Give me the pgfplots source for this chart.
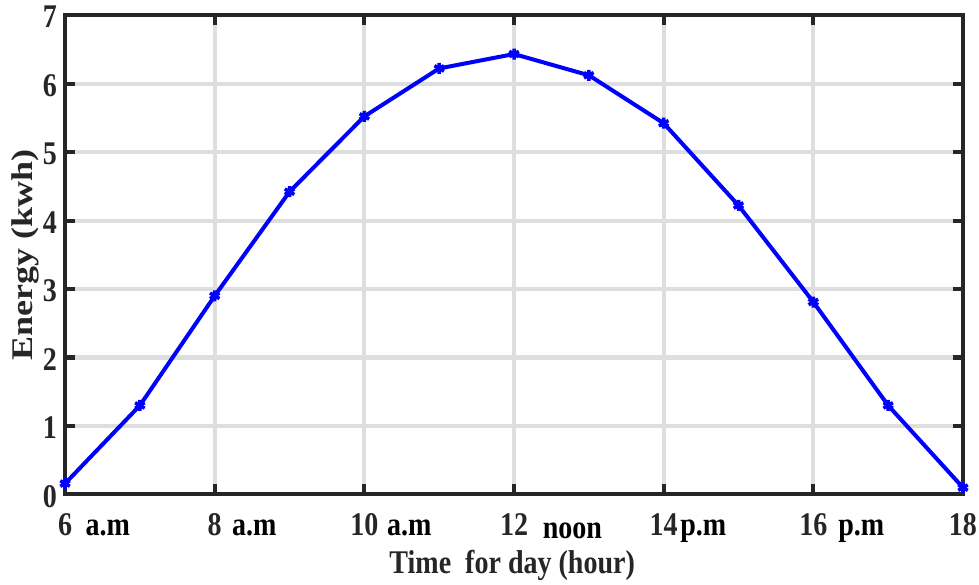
\documentclass[border=0pt]{standalone}
\usepackage{graphicx}
\usepackage{pgfplots}
\pgfplotsset{compat=1.18}
\usepackage{fontspec}
\setmainfont{Liberation Serif}
\definecolor{axgray}{RGB}{38,38,38}
\definecolor{gridgray}{RGB}{222,222,222}
\newcommand\vs[1]{\scalebox{1}[1.18]{#1}}
\begin{document}
\fontsize{28}{32}\selectfont\bfseries
\begin{tikzpicture}
\begin{axis}[
  scale only axis,
  width=897pt, height=479pt,
  xmin=6, xmax=18, ymin=0, ymax=7,
  xtick={6,8,...,18}, ytick={0,1,...,7},
  grid=major,
  major grid style={gridgray, line width=4pt},
  axis line style={axgray, line width=4pt},
  tick style={axgray, line width=4pt},
  major tick length=10pt,
  tick align=inside,
  /pgf/number format/assume math mode=true,
  tick label style={font=\fontsize{28}{32}\selectfont\bfseries, text=axgray},
  xticklabel={\vs{\pgfmathprintnumber{\tick}}},
  yticklabel={\vs{\pgfmathprintnumber{\tick}}},
  xticklabel style={anchor=base, yshift=-41pt, inner sep=0pt},
  yticklabel style={anchor=east, xshift=-8pt, yshift=-2pt, inner sep=0pt},
  clip=false,
  xlabel={\vs{Time\ \ for day (hour)}},
  ylabel={\scalebox{1.2}[1]{Energy (kwh)}},
  every axis x label/.style={at={(axis description cs:0.498,-0.1485)}, anchor=center, font=\fontsize{28}{32}\selectfont\bfseries, text=axgray},
  every axis y label/.style={at={(axis description cs:-0.0445,0.5)}, anchor=center, rotate=90, font=\fontsize{30}{34}\selectfont\bfseries, text=axgray},
]
\addplot[blue, line width=4pt, mark=asterisk, mark size=5.5pt, mark options={line width=3.5pt}] coordinates {
(6,0.16) (7,1.30) (8,2.90) (9,4.42) (10,5.52) (11,6.22) (12,6.43) (13,6.12) (14,5.42) (15,4.22) (16,2.81) (17,1.30) (18,0.10)
};
\node[anchor=base, inner sep=0pt, font=\fontsize{28}{32}\selectfont\bfseries] at (axis cs:6.57,0) [yshift=-41pt] {\vs{a.m}};
\node[anchor=base, inner sep=0pt, font=\fontsize{28}{32}\selectfont\bfseries] at (axis cs:8.53,0) [yshift=-41pt] {\vs{a.m}};
\node[anchor=base, inner sep=0pt, font=\fontsize{28}{32}\selectfont\bfseries] at (axis cs:10.60,0) [yshift=-41pt] {\vs{a.m}};
\node[anchor=base, inner sep=0pt, font=\fontsize{28}{32}\selectfont\bfseries] at (axis cs:12.78,0) [yshift=-44pt] {\vs{noon}};
\node[anchor=base, inner sep=0pt, font=\fontsize{28}{32}\selectfont\bfseries] at (axis cs:14.53,0) [yshift=-41pt] {\vs{p.m}};
\node[anchor=base, inner sep=0pt, font=\fontsize{28}{32}\selectfont\bfseries] at (axis cs:16.64,0) [yshift=-41pt] {\vs{p.m}};
\end{axis}
\pgfresetboundingbox
\path[use as bounding box] ([xshift=-65pt,yshift=-90pt]current axis.south west) rectangle ([xshift=16pt,yshift=15pt]current axis.north east);
\end{tikzpicture}
\end{document}
